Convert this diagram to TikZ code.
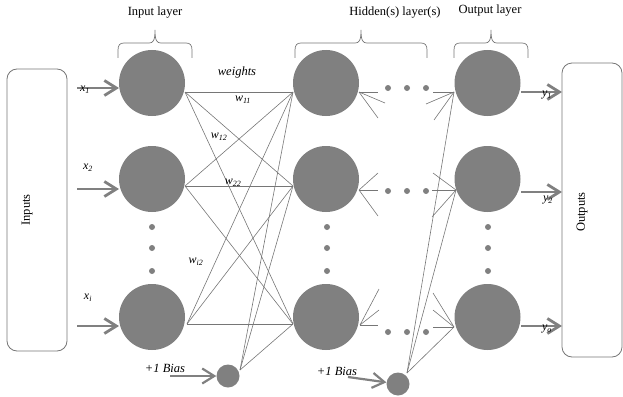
\documentclass[tikz,border=0pt]{standalone}
\usepackage{fontspec}
\setmainfont{Liberation Serif}
\usetikzlibrary{arrows.meta}
\definecolor{ngray}{RGB}{128,128,128}
\definecolor{lgray}{RGB}{118,118,118}
\begin{document}
\begin{tikzpicture}[x=1pt,y=-1pt,
 neuron/.style={circle,fill=ngray,draw=none,minimum size=66pt,inner sep=0pt},
 biasn/.style={circle,fill=ngray,draw=none,minimum size=23pt,inner sep=0pt},
 dotn/.style={circle,fill=ngray,draw=none,minimum size=6pt,inner sep=0pt},
 conn/.style={draw=lgray,line width=0.6pt},
 bigarrow/.style={draw=ngray,line width=2.8pt,-{Straight Barb[length=12pt,width=15pt]}},
 brc/.style={draw=lgray,line width=0.7pt},
 iobox/.style={draw=lgray,line width=0.8pt,rounded corners=10pt,inner sep=0pt},
 lbl/.style={font=\fontsize{12.5}{14}\selectfont,inner sep=0pt},
 ilbl/.style={font=\fontsize{12.5}{14}\selectfont\itshape,inner sep=0pt},
 sml/.style={font=\fontsize{12}{13}\selectfont\itshape,inner sep=0pt},
]
\useasboundingbox (0,0) rectangle (623,396);

% boxes
\node[iobox,minimum width=60pt,minimum height=282pt] (inbox) at (37,210) {};
\node[iobox,minimum width=60pt,minimum height=294pt] (outbox) at (592,210) {};
\node[lbl,rotate=90] (intext) at (27,210) {Inputs};
\node[lbl,rotate=90] (outtext) at (582,212) {Outputs};

% neurons
\node[neuron] (i1) at (152,83) {};
\node[neuron] (i2) at (152,179) {};
\node[neuron] (i3) at (152,317) {};
\node[neuron] (h1) at (326,83) {};
\node[neuron] (h2) at (326,179) {};
\node[neuron] (h3) at (326,317) {};
\node[neuron] (o1) at (487.5,83) {};
\node[neuron] (o2) at (487.5,179) {};
\node[neuron] (o3) at (487.5,317) {};
\node[biasn] (b1) at (228,376) {};
\node[biasn] (b2) at (398,384) {};

% vertical dots
\foreach \x/\n in {152/i,327/h,488/o}{
  \node[dotn] (\n d1) at (\x,227) {};
  \node[dotn] (\n d2) at (\x,248) {};
  \node[dotn] (\n d3) at (\x,271) {};
}
% horizontal dots
\foreach \y/\n in {88/1,191/2,332/3}{
  \node[dotn] (e\n a) at (388,\y) {};
  \node[dotn] (e\n b) at (407,\y) {};
  \node[dotn] (e\n c) at (426,\y) {};
}

% connection points
\coordinate (i1o) at (185,92);
\coordinate (i2o) at (185,186);
\coordinate (i3o) at (187,324);
\coordinate (h1i) at (293,92);
\coordinate (h2i) at (293,186);
\coordinate (h3i) at (293,324);
\coordinate (b1o) at (240,370);
\coordinate (h1o) at (359,92);
\coordinate (h2o) at (359,190);
\coordinate (h3o) at (360,325);
\coordinate (o1i) at (454,92);
\coordinate (o2i) at (456,190);
\coordinate (o3i) at (454,327);
\coordinate (b2o) at (407,373);

% input -> hidden
\foreach \a in {i1o,i2o,i3o,b1o}{
  \foreach \b in {h1i,h2i,h3i}{
    \draw[conn] (\a) -- (\b);
  }
}
% hidden bias -> output
\foreach \b in {o1i,o2i,o3i}{ \draw[conn] (b2o) -- (\b); }

% partial fan lines
\coordinate (f1a) at (378,92);  \coordinate (f1b) at (385,103); \coordinate (f1c) at (378,118);
\coordinate (g1a) at (433,92);  \coordinate (g1b) at (426,104); \coordinate (g1c) at (434,120);
\coordinate (f2a) at (378,190); \coordinate (f2b) at (378,173); \coordinate (f2c) at (378,216);
\coordinate (g2a) at (432,190); \coordinate (g2b) at (433,173); \coordinate (g2c) at (432,217);
\coordinate (f3a) at (378,325); \coordinate (f3b) at (379,289); \coordinate (f3c) at (379,310);
\coordinate (g3a) at (433,327); \coordinate (g3b) at (433,293); \coordinate (g3c) at (433,310);
\foreach \k in {1,2,3}{
  \foreach \s in {a,b,c}{
    \draw[conn] (h\k o) -- (f\k\s);
    \draw[conn] (o\k i) -- (g\k\s);
  }
}

% input arrows
\coordinate (xa1) at (77,88);  \coordinate (xt1) at (119,88);
\coordinate (xa2) at (77,189); \coordinate (xt2) at (119,189);
\coordinate (xa3) at (77,326); \coordinate (xt3) at (119,326);
\foreach \k in {1,2,3}{ \draw[bigarrow] (xa\k) -- (xt\k); }
% output arrows
\coordinate (ya1) at (521,92);  \coordinate (yt1) at (562,92);
\coordinate (ya2) at (521,192); \coordinate (yt2) at (562,192);
\coordinate (ya3) at (521,326); \coordinate (yt3) at (562,326);
\foreach \k in {1,2,3}{ \draw[bigarrow] (ya\k) -- (yt\k); }
% bias arrows
\coordinate (ba1) at (170,376); \coordinate (ba2) at (348,377);
\draw[bigarrow,line width=2.2pt] (ba1) -- (b1);
\draw[bigarrow,line width=2.2pt] (ba2) -- (b2);

% braces
\draw[brc] (118,58) -- (118,50) .. controls (118,45) and (120,43) .. (124,43) -- (149,43)
  .. controls (153,43) and (155,41) .. (155,30) .. controls (155,41) and (157,43) .. (161,43)
  -- (186,43) .. controls (190,43) and (192,45) .. (192,50) -- (192,58);
\draw[brc] (295,58) -- (295,50) .. controls (295,45) and (297,43) .. (301,43) -- (355,43)
  .. controls (359,43) and (361,41) .. (361,30) .. controls (361,41) and (363,43) .. (367,43)
  -- (421,43) .. controls (425,43) and (427,45) .. (427,50) -- (427,58);
\draw[brc] (454,58) -- (454,50) .. controls (454,45) and (456,43) .. (460,43) -- (485,43)
  .. controls (489,43) and (491,41) .. (491,30) .. controls (491,41) and (493,43) .. (497,43)
  -- (522,43) .. controls (526,43) and (528,45) .. (528,50) -- (528,58);

% layer titles
\node[lbl] (tin) at (155,13) {Input layer};
\node[lbl] (thid) at (395,13) {Hidden(s) layer(s)};
\node[lbl] (tout) at (490,11) {Output layer};

% weight labels
\node[ilbl] (wts) at (237,72) {weights};
\node[sml] (w11) at (243,100) {w\textsubscript{11}};
\node[sml] (w12) at (219,137) {w\textsubscript{12}};
\node[sml] (w22) at (233,183) {w\textsubscript{22}};
\node[sml] (wi2) at (196,262) {w\textsubscript{i2}};

% input/output labels
\node[sml] (lx1) at (85,90) {x\textsubscript{1}};
\node[sml] (lx2) at (88,168) {x\textsubscript{2}};
\node[sml] (lxi) at (88,298) {x\textsubscript{i}};
\node[sml] (ly1) at (547,95) {y\textsubscript{1}};
\node[sml] (ly2) at (548,200) {y\textsubscript{2}};
\node[sml] (lyo) at (547,329) {y\textsubscript{o}};

% bias labels
\node[ilbl] (bl1) at (165,368) {+1 Bias};
\node[ilbl] (bl2) at (337,371) {+1 Bias};
\end{tikzpicture}
\end{document}
